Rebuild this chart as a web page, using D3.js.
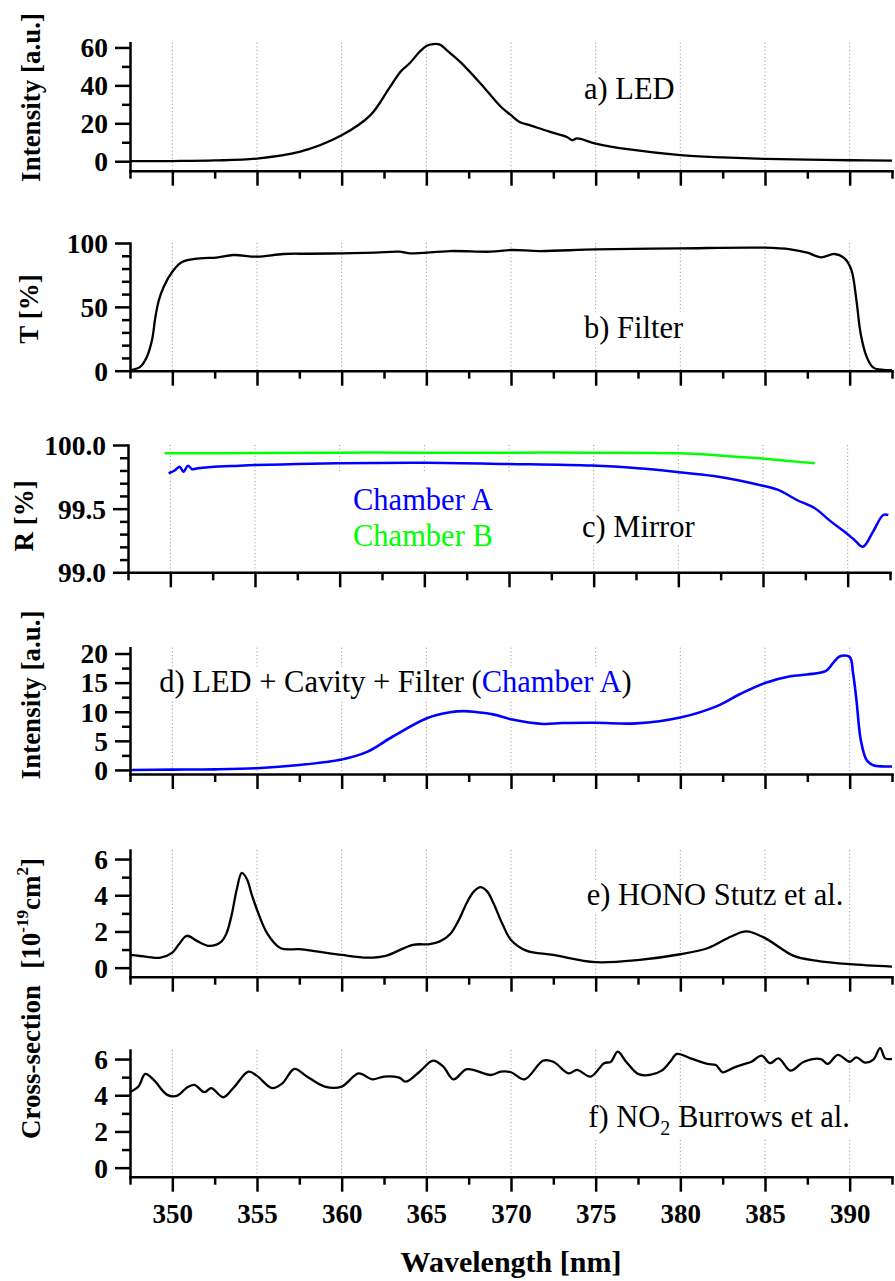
<!DOCTYPE html>
<html><head><meta charset="utf-8">
<script src="https://cdn.jsdelivr.net/npm/d3@7"></script>
</head><body style="margin:0">
<svg id="chart" width="895" height="1281" style="display:block;background:#fff"></svg>
<script>
// ---------------- DATA ----------------
const xMajorTicks = [350,355,360,365,370,375,380,385,390];
const xMinorTicks = [347.5,352.5,357.5,362.5,367.5,372.5,377.5,382.5,387.5,392.5];

// a) LED
const ledWavelength = [347.5,350,352.5,355,357.5,360,361.7,362.8,363.5,364,364.6,365,365.4,365.8,366.2,367,368.2,369.4,370,370.5,371.1,372.3,373.3,373.6,373.9,375,377,380,382.5,385,387.5,390,392.5];
const ledIntensity  = [0,0.1,0.4,1.4,4.9,13.7,24.3,38.4,47.5,51.5,57.7,60.8,61.8,61.5,58.6,52.4,41,28.7,24.3,20.7,19,15.5,12.8,11.1,12,9.3,6.2,3.2,2.0,1.2,0.8,0.5,0.3];

// b) Filter
const filterWavelength = [347.5,348.1,348.5,348.8,349,349.2,349.5,350,350.55,351.6,352.6,353.6,355,356.55,358,360,362,363.4,364,366.4,368.8,370,371.7,375,380,385,386.5,387.5,388.3,389.1,389.7,390.1,390.4,390.65,391,391.4,392,392.5];
const filterTransmission = [0.5,3,11,24,42,55,66,77.5,85,88,88.5,90.6,89.3,91.4,91.6,91.9,92.5,93.2,91.9,93.7,93.2,94.5,93.7,95,95.8,96.3,95,92.4,88.8,91.4,88,78.9,55,29,11,2.4,0.6,0.5];

// c) Mirror
const mirrorAWavelength = [349.9,350.26,350.55,350.77,351.04,351.28,351.63,352.6,353.6,355,357.5,359.85,365,369.9,374.9,377.6,379.8,382.1,384.8,385.9,387,388.06,389,389.8,390.4,390.9,391.5,392.1,392.4];
const mirrorAReflectivity = [99.778,99.80,99.83,99.79,99.837,99.81,99.818,99.83,99.835,99.843,99.85,99.856,99.86,99.851,99.838,99.817,99.79,99.756,99.686,99.647,99.568,99.503,99.40,99.32,99.254,99.2,99.32,99.45,99.45];
const mirrorBWavelength = [349.66,355,360,365,370,375,380,382.2,384.8,386.5,388.06];
const mirrorBReflectivity = [99.935,99.937,99.94,99.94,99.94,99.94,99.935,99.92,99.895,99.875,99.856];

// d) LED + Cavity + Filter (Chamber A)
const cavityWavelength = [347.5,350,352.5,355,357.5,360,361.5,363,365,366.4,367.2,367.8,369,370,371.9,373,375,377.4,380,382.2,383.5,385,386.5,387.5,388.6,389,389.4,390,390.2,390.4,390.66,391,391.4,392,392.5];
const cavityIntensity = [0,0.05,0.1,0.3,0.85,1.8,3.1,5.7,8.85,9.9,10.1,10.0,9.5,8.7,7.9,8.05,8.1,8.0,9.0,11.0,13.0,14.95,16.1,16.4,17.0,18.3,19.5,19.4,16.6,12,5.1,1.7,0.8,0.6,0.6];

// e) HONO Stutz et al.
const honoWavelength = [347.5,348.5,349.3,350,350.4,350.85,351.5,352.2,352.9,353.2,353.5,353.8,354.1,354.4,354.7,355,355.6,356.4,357.5,358.5,360,361.5,362.6,364.2,365.2,365.8,366.4,366.9,367.4,367.8,368.2,368.6,368.96,369.5,370,370.9,372.5,375,377.6,380,381.6,383,383.9,385,386.7,388,390,392.5];
const honoCrossSection = [0.7,0.6,0.55,0.83,1.3,1.76,1.45,1.2,1.44,1.9,2.9,4.3,5.23,4.9,4.0,3.2,1.9,1.07,1.02,0.9,0.7,0.55,0.65,1.26,1.3,1.45,1.85,2.6,3.6,4.2,4.45,4.2,3.57,2.4,1.53,0.94,0.7,0.3,0.43,0.74,1.07,1.72,2.0,1.63,0.65,0.39,0.19,0.06];

// f) NO2 Burrows et al.
const no2Wavelength = [347.5,348.0,348.4,348.9,349.7,350.3,350.85,351.3,351.9,352.3,353.0,353.6,354.5,355.0,355.9,356.5,357.2,357.9,359.0,360.0,361.0,361.8,362.5,363.4,363.8,364.6,365.4,366.0,366.6,367.4,368.8,369.4,370.0,370.8,371.9,372.5,373.4,373.9,374.7,375.5,375.9,376.3,376.8,377.5,378.2,378.9,379.4,379.8,380.6,381.6,382.1,382.5,383.1,383.8,384.2,384.8,385.3,385.8,386.5,387.3,388.3,388.7,389.3,390.0,390.4,390.9,391.4,391.8,392.1,392.5];
const no2CrossSection = [4.17,4.48,5.18,4.85,4.02,3.98,4.42,4.57,4.17,4.39,3.89,4.4,5.3,5.07,4.39,4.66,5.45,5.07,4.48,4.48,5.21,4.88,5.03,4.97,4.75,5.3,5.91,5.58,4.88,5.44,5.12,5.3,5.27,4.88,5.91,5.85,5.21,5.4,5.03,5.77,5.85,6.41,5.85,5.18,5.12,5.36,5.85,6.28,6.04,5.73,5.67,5.27,5.5,5.73,5.85,6.19,5.77,6.04,5.36,5.85,6.0,5.73,6.23,5.85,6.09,5.8,5.97,6.6,6.04,6.0];

// y tick values
const aMajor=[0,20,40,60], aMinor=[10,30,50];
const bMajor=[0,50,100], bMinor=[10,20,30,40,60,70,80,90];
const cMajor=[99,99.5,100], cMinor=[99.1,99.2,99.3,99.4,99.6,99.7,99.8,99.9];
const dMajor=[0,5,10,15,20], dMinor=[2.5,7.5,12.5,17.5];
const eMajor=[0,2,4,6], eMinor=[1,3,5];

// ---------------- DRAW ----------------
const FONT = '"Liberation Serif"';
const svg = d3.select("#chart");
const x = d3.scaleLinear().domain([347.5,392.5]).range([130,892]);
const BLACK="#000", BLUE="#0000ff", GREEN="#00ff00";

function txt(sel, size, bold){
  return sel.style("font-family",FONT).style("font-size",size+"px").style("font-weight",bold?"bold":"normal");
}

const panels = [
 {top:42.7,bottom:170.7,domain:[-5,62.5],major:aMajor,minor:aMinor,fmt:d3.format("d"),shift:0,
  series:[{wl:ledWavelength,v:ledIntensity,c:BLACK,w:2.3}],
  label:{x:584,y:98.5,parts:[{t:"a) LED"}]},
  title:{x:40,y:97.5,t:"Intensity [a.u.]"}},
 {top:243,bottom:370.7,domain:[0,100],major:bMajor,minor:bMinor,fmt:d3.format("d"),shift:0,
  series:[{wl:filterWavelength,v:filterTransmission,c:BLACK,w:2.3}],
  label:{x:584,y:337.5,parts:[{t:"b) Filter"}]},
  title:{x:38,y:309,t:"T [%]"}},
 {top:445,bottom:572.3,domain:[99,100],major:cMajor,minor:cMinor,fmt:d3.format(".1f"),shift:-2,
  series:[{wl:mirrorBWavelength,v:mirrorBReflectivity,c:GREEN,w:2.5},{wl:mirrorAWavelength,v:mirrorAReflectivity,c:BLUE,w:2.5}],
  label:{x:582,y:537,parts:[{t:"c) Mirror"}]},
  legend:true,
  title:{x:33,y:516,t:"R [%]"}},
 {top:647.7,bottom:774,domain:[-0.7,21],major:dMajor,minor:dMinor,fmt:d3.format("d"),shift:0,
  series:[{wl:cavityWavelength,v:cavityIntensity,c:BLUE,w:2.6}],
  label:{x:159.3,y:691.7,parts:[{t:"d) LED + Cavity + Filter ("},{t:"Chamber A",c:BLUE},{t:")"}]},
  title:{x:40,y:695,t:"Intensity [a.u.]"}},
 {top:850,bottom:976.7,domain:[-0.5,6.5],major:eMajor,minor:eMinor,fmt:d3.format("d"),shift:0,
  series:[{wl:honoWavelength,v:honoCrossSection,c:BLACK,w:2.3}],
  label:{x:586.7,y:905,parts:[{t:"e) HONO Stutz et al."}]}},
 {top:1050,bottom:1176.7,domain:[-0.5,6.5],major:eMajor,minor:eMinor,fmt:d3.format("d"),shift:0,xLabels:true,
  series:[{wl:no2Wavelength,v:no2CrossSection,c:BLACK,w:2.3}],
  label:{x:588.3,y:1127.3,parts:[{t:"f) NO"},{t:"2",sub:true},{t:" Burrows et al.",after:true}]}}
];

const gGrid = svg.append("g"), gLab = svg.append("g"), gData = svg.append("g"), gAxes = svg.append("g");

function styleAxis(g){
  g.attr("font-family",null);
  g.selectAll("path,line").attr("stroke",BLACK).attr("stroke-width",2.5);
  g.selectAll(".domain").attr("stroke-linecap","square");
  g.selectAll("text").attr("fill",BLACK);
}

panels.forEach(p=>{
  const y = d3.scaleLinear().domain(p.domain).range([p.bottom,p.top]);
  const tr = `translate(${p.shift},0)`;
  // grid
  gGrid.append("g").attr("transform",tr).selectAll("line").data(xMajorTicks).join("line")
    .attr("x1",d=>x(d)).attr("x2",d=>x(d)).attr("y1",p.top).attr("y2",p.bottom)
    .attr("stroke","#909090").attr("stroke-width",1).attr("stroke-dasharray","1,2.6");
  // label
  const lt = txt(gLab.append("text").attr("x",p.label.x).attr("y",p.label.y),30.5,false).attr("fill",BLACK);
  p.label.parts.forEach(pt=>{
    const ts = lt.append("tspan").text(pt.t);
    if(pt.c) ts.attr("fill",pt.c);
    if(pt.sub) ts.style("font-size","20px").attr("dy",8);
    if(pt.after) ts.attr("dy",-8);
  });
  const bb = lt.node().getBBox();
  gLab.insert("rect",()=>lt.node()).attr("x",bb.x-3).attr("y",bb.y+2).attr("width",bb.width+6).attr("height",bb.height-2).attr("fill","#fff");
  if(p.legend){
    gLab.append("rect").attr("x",336).attr("y",473).attr("width",178).attr("height",97).attr("fill","#fff");
    txt(gLab.append("text").attr("x",353).attr("y",510),30.5,false).attr("fill",BLUE).text("Chamber A");
    txt(gLab.append("text").attr("x",353).attr("y",545.7),30.5,false).attr("fill",GREEN).text("Chamber B");
  }
  // data
  const line = d3.line().x(d=>x(d[0])).y(d=>y(d[1])).curve(d3.curveCatmullRom.alpha(0.5));
  p.series.forEach(s=>{
    gData.append("path").attr("transform",tr).datum(d3.zip(s.wl,s.v)).attr("d",line)
      .attr("fill","none").attr("stroke",s.c).attr("stroke-width",s.w).attr("stroke-linejoin","round");
  });
  // axes
  const ga = gAxes.append("g").attr("transform",tr);
  const yl = ga.append("g").attr("transform","translate(130,0)")
    .call(d3.axisLeft(y).tickValues(p.major).tickFormat(p.fmt).tickSize(15).tickSizeOuter(0).tickPadding(7));
  txt(yl.selectAll("text"),27.5,true).attr("dy","0.34em");
  styleAxis(yl);
  const ym = ga.append("g").attr("transform","translate(130,0)")
    .call(d3.axisLeft(y).tickValues(p.minor).tickFormat("").tickSize(8).tickSizeOuter(0));
  ym.select(".domain").remove(); styleAxis(ym);
  const xl = ga.append("g").attr("transform",`translate(0,${p.bottom})`)
    .call(d3.axisBottom(x).tickValues(xMajorTicks).tickFormat(p.xLabels?d3.format("d"):"").tickSize(15).tickSizeOuter(0).tickPadding(12));
  txt(xl.selectAll("text"),27,true);
  styleAxis(xl);
  const xm = ga.append("g").attr("transform",`translate(0,${p.bottom})`)
    .call(d3.axisBottom(x).tickValues(xMinorTicks).tickFormat("").tickSize(8).tickSizeOuter(0));
  xm.select(".domain").remove(); styleAxis(xm);
  // y title
  if(p.title){
    txt(gAxes.append("text").attr("transform",`translate(${p.title.x},${p.title.y}) rotate(-90)`)
      .attr("text-anchor","middle"),27,true).text(p.title.t);
  }
});

// shared cross-section title
txt(gAxes.append("text").attr("transform","translate(40,1139) rotate(-90)").attr("text-anchor","start"),27,true).text("Cross-section");
const ct = txt(gAxes.append("text").attr("transform","translate(40,858) rotate(-90)").attr("text-anchor","end"),27,true);
ct.append("tspan").text("[10");
ct.append("tspan").style("font-size","17px").attr("dy",-12).text("-19");
ct.append("tspan").attr("dy",12).text("cm");
ct.append("tspan").style("font-size","17px").attr("dy",-12).text("2");
ct.append("tspan").attr("dy",12).text("]");

// x title
txt(gAxes.append("text").attr("x",511).attr("y",1272).attr("text-anchor","middle"),30,true).text("Wavelength [nm]");
</script>
</body></html>
